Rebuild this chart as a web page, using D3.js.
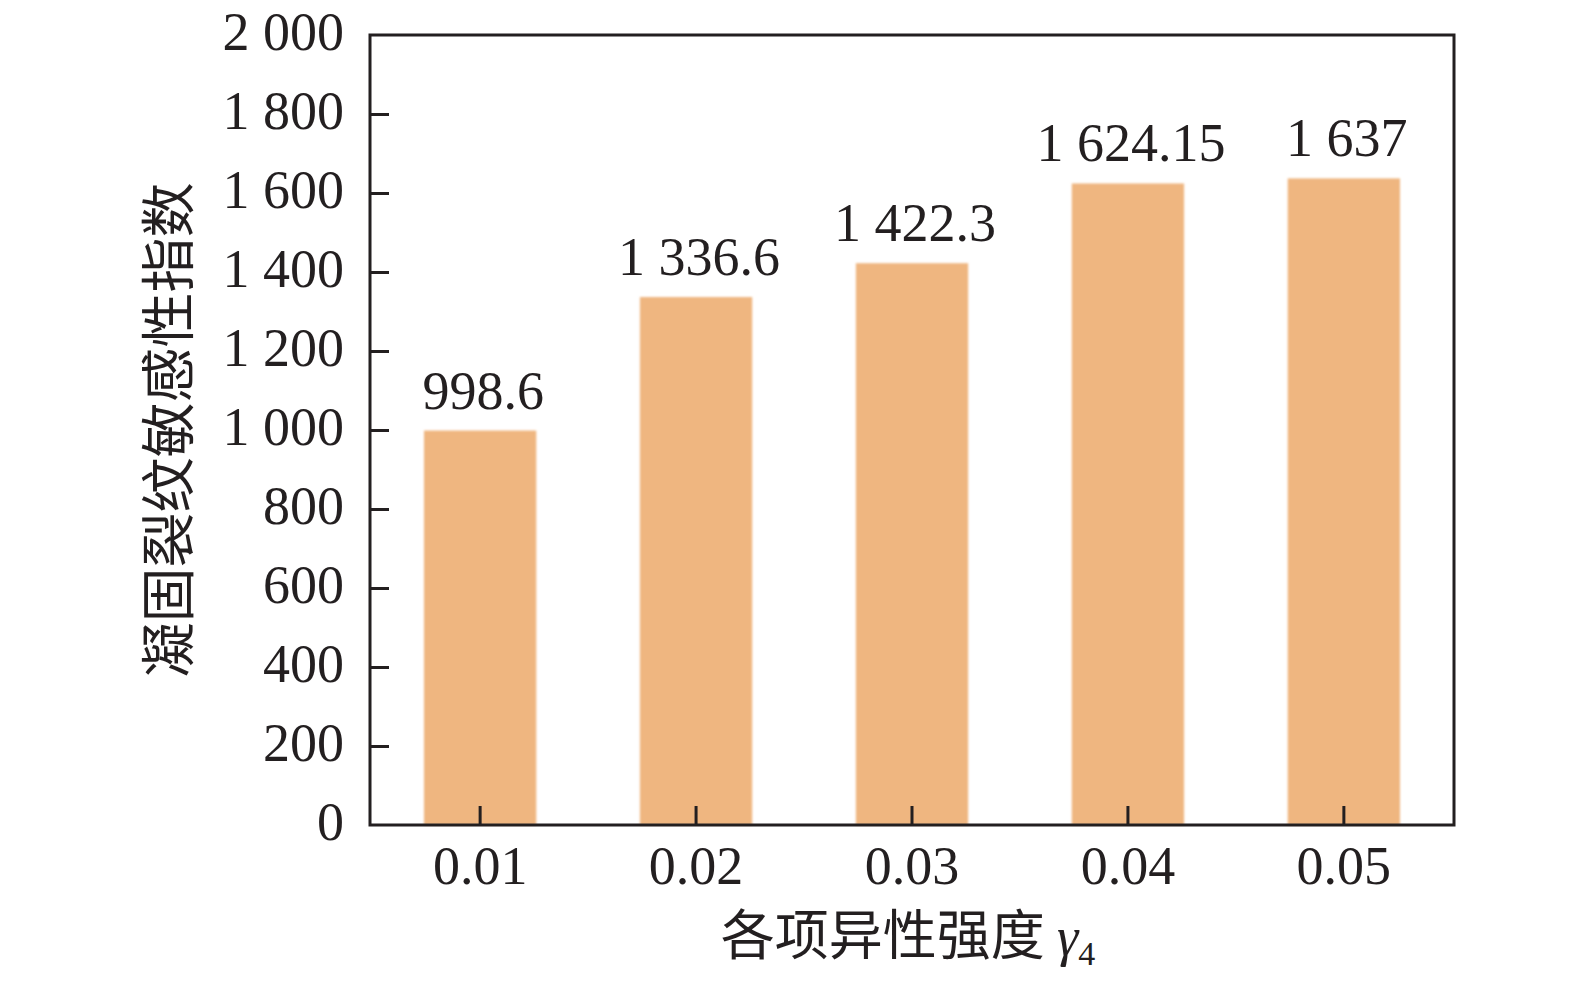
<!DOCTYPE html>
<html><head><meta charset="utf-8">
<script src="https://cdn.jsdelivr.net/npm/d3@7"></script>
<style>
html,body{margin:0;padding:0;background:#fff;}
text{fill:#231f20;}
</style></head>
<body>
<svg id="chart" width="1575" height="986"></svg>
<script>
const categories = ["0.01","0.02","0.03","0.04","0.05"];
const values = [998.6, 1336.6, 1422.3, 1624.15, 1637];
const valueLabels = ["998.6","1 336.6","1 422.3","1 624.15","1 637"];
const yTicks = [0,200,400,600,800,1000,1200,1400,1600,1800,2000];
const yTickLabels = ["0","200","400","600","800","1 000","1 200","1 400","1 600","1 800","2 000"];

const svg = d3.select("#chart");
const L = 370, R = 1454, T = 35, B = 825;
const serif = "'Liberation Serif','Times New Roman',serif";
const cjk = "'Noto Sans CJK SC','Noto Sans CJK JP',sans-serif";
const ink = "#231f20";

const defs = svg.append("defs");
defs.append("filter").attr("id","soft").attr("x","-5%").attr("y","-5%").attr("width","110%").attr("height","110%")
  .append("feGaussianBlur").attr("stdDeviation",1.3);

const x = d3.scaleBand().domain(categories).range([L,R]).paddingInner(0.48).paddingOuter(0.25);
const y = d3.scaleLinear().domain([0,2000]).range([B,T]);

// bars
svg.append("g").attr("filter","url(#soft)").selectAll("rect").data(values).join("rect")
  .attr("x",(d,i)=>x(categories[i]))
  .attr("width",x.bandwidth())
  .attr("y",d=>y(d))
  .attr("height",d=>B-y(d))
  .attr("fill","#efb680");

// value labels
svg.append("g").selectAll("text").data(values).join("text")
  .attr("x",(d,i)=>x(categories[i])+x.bandwidth()/2+3)
  .attr("y",d=>y(d)-22)
  .attr("text-anchor","middle")
  .style("font-family",serif).style("font-size","54px")
  .text((d,i)=>valueLabels[i]);

// y axis
const yAxis = d3.axisLeft(y).tickValues(yTicks).tickSize(-19).tickPadding(26)
  .tickFormat((d,i)=>yTickLabels[i]);
const gy = svg.append("g").attr("transform",`translate(${L},0)`).call(yAxis);
gy.select(".domain").remove();
gy.selectAll(".tick line").attr("stroke",ink).attr("stroke-width",3);
gy.selectAll(".tick text").style("font-family",serif).style("font-size","54px").attr("fill",ink).attr("dy","0.26em");
gy.selectAll(".tick").filter(d=>d===0||d===2000).select("line").remove();

// x axis
const xAxis = d3.axisBottom(x).tickSize(-19).tickPadding(0);
const gx = svg.append("g").attr("transform",`translate(0,${B})`).call(xAxis);
gx.select(".domain").remove();
gx.selectAll(".tick line").attr("stroke",ink).attr("stroke-width",3);
gx.selectAll(".tick text").style("font-family",serif).style("font-size","54px").attr("fill",ink)
  .attr("y",59).attr("dy",0);

// frame
svg.append("rect").attr("x",L).attr("y",T).attr("width",R-L).attr("height",B-T)
  .attr("fill","none").attr("stroke",ink).attr("stroke-width",3);

// x title
const xt = svg.append("text").attr("x",908).attr("y",955).attr("text-anchor","middle")
  .style("font-family",cjk).style("font-size","54px").style("font-weight","400");
xt.append("tspan").text("各项异性强度 ");
xt.append("tspan").style("font-family",serif).style("font-style","italic").style("font-size","54px").text("γ");
xt.append("tspan").style("font-family",serif).style("font-size","34px").attr("dy",10).text("4");

// y title
svg.append("text").attr("transform",`translate(188,${(T+B)/2}) rotate(-90)`)
  .attr("text-anchor","middle")
  .style("font-family",cjk).style("font-size","55px").style("font-weight","400")
  .text("凝固裂纹敏感性指数");
</script>
</body></html>
